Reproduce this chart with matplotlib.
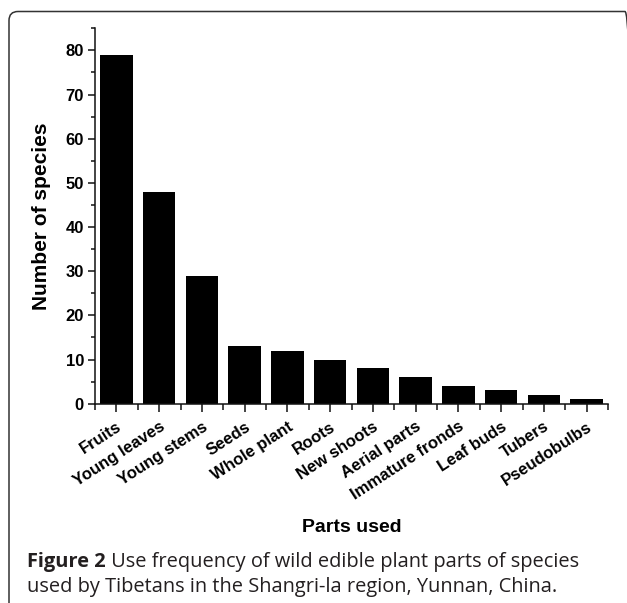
import matplotlib
matplotlib.use("Agg")
import matplotlib.pyplot as plt
from matplotlib.patches import FancyBboxPatch
from matplotlib.ticker import MultipleLocator, FixedLocator

categories = ["Fruits", "Young leaves", "Young stems", "Seeds", "Whole plant", "Roots",
              "New shoots", "Aerial parts", "Immature fronds", "Leaf buds", "Tubers", "Pseudobulbs"]
counts = [79, 48, 29, 13, 12, 10, 8, 6, 4, 3, 2, 1]
y_ticks = [0, 10, 20, 30, 40, 50, 60, 70, 80]

W, H = 627, 603
fig = plt.figure(figsize=(W / 100, H / 100), dpi=100)

ax = fig.add_axes([95 / W, 1 - 403.7 / H, (608 - 95) / W, (403.7 - 28.3) / H])
x = list(range(len(categories)))
ax.bar(x, counts, width=0.76, color="black", edgecolor="none")
ax.set_xlim(-0.5, len(categories) - 0.5)
ax.set_ylim(0, 85)

for s in ["top", "right"]:
    ax.spines[s].set_visible(False)
for s in ["left", "bottom"]:
    ax.spines[s].set_linewidth(1.1)
    ax.spines[s].set_color("#111111")

ax.set_yticks(y_ticks)
ax.yaxis.set_minor_locator(MultipleLocator(5))
ax.set_xticks(x)
ax.xaxis.set_minor_locator(FixedLocator([i - 0.5 for i in range(len(categories) + 1)]))

tf = "Liberation Sans"
ax.set_yticklabels([str(v) for v in y_ticks], fontfamily=tf, fontweight="bold", fontsize=12)
ax.set_xticklabels(categories, fontfamily=tf, fontweight="bold", fontsize=12,
                   rotation=33, ha="right", rotation_mode="anchor")
ax.tick_params(axis="y", which="major", direction="out", length=5, width=1.1, pad=3, colors="#111111")
ax.tick_params(axis="y", which="minor", direction="out", length=3, width=1.1, colors="#111111")
ax.tick_params(axis="x", which="major", direction="out", length=6, width=1.1, pad=5, colors="#111111")
ax.tick_params(axis="x", which="minor", direction="out", length=4, width=1.1, colors="#111111")
for lab in ax.get_xticklabels() + ax.get_yticklabels():
    lab.set_color("black")

ax.set_ylabel("Number of species", fontfamily=tf, fontweight="bold", fontsize=15)
ax.yaxis.set_label_coords(-(95 - 42) / (608 - 95), 0.5)
ax.yaxis.label.set_va("center")
ax.set_xlabel("Parts used", fontfamily=tf, fontweight="bold", fontsize=14)
ax.xaxis.set_label_coords(0.5, -(527 - 403.7) / (403.7 - 28.3))
ax.xaxis.label.set_va("center")

# rounded frame
frame = FancyBboxPatch((9, -30), 634 - 9, H - 11.5 + 30,
                       boxstyle="round,pad=0,rounding_size=9",
                       transform=None, fill=False, edgecolor="#333333", linewidth=1.1,
                       figure=fig)
fig.patches.append(frame)

cap_color = "#231f20"
cf = "Open Sans"
cs = 14.4
t1 = fig.text(27 / W, 1 - 562 / H, "Figure 2", fontfamily=cf, fontweight="bold",
              fontsize=cs, color=cap_color, va="center", ha="left")
plt.annotate(" Use frequency of wild edible plant parts of species", xy=(1, 0.5), xycoords=t1,
             va="center", ha="left", fontfamily=cf, fontsize=cs, color=cap_color)
fig.text(27 / W, 1 - 587 / H, "used by Tibetans in the Shangri-la region, Yunnan, China.",
         fontfamily=cf, fontsize=cs, color=cap_color, va="center", ha="left")

fig.savefig("out.png", dpi=100)
